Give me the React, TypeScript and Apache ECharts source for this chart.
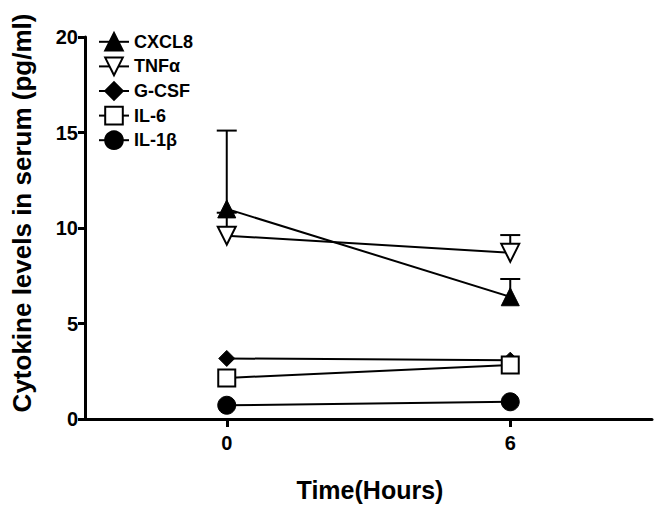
import React, { useEffect, useRef } from "react";
import * as echarts from "echarts";

const hours = [0, 6];
const xTickValues = [0, 6];
const yTicks = [0, 5, 10, 15, 20];
const seriesNames = ["CXCL8", "TNFα", "G-CSF", "IL-6", "IL-1β"];
const cxcl8 = [11.0, 6.4];
const cxcl8Err = [15.1, 7.33];
const tnfa = [9.6, 8.7];
const tnfaErr = [10.8, 9.63];
const gcsf = [3.17, 3.08];
const il6 = [2.15, 2.83];
const il1b = [0.72, 0.9];

const FONT = "Liberation Sans, Arial, Helvetica, sans-serif";

export default function App() {
  const ref = useRef<HTMLDivElement>(null);
  useEffect(() => {
    if (!ref.current) return;
    const chart = echarts.init(ref.current, undefined, { renderer: "svg" });

    const pts = (vals: number[]) => hours.map((h, i) => [h, vals[i]]);
    const errPts = (vals: number[], tops: number[]) =>
      hours.map((h, i) => [h, vals[i], tops[i]]);

    const lineBase = (name: string, data: number[][], symbol: string, size: number, filled: boolean, rotate = 0) => ({
      name,
      type: "line",
      data,
      symbol,
      symbolSize: size,
      symbolRotate: rotate,
      showAllSymbol: true,
      z: 3,
      lineStyle: { color: "#000", width: 2 },
      itemStyle: filled
        ? { color: "#000", borderColor: "#000", borderWidth: 1 }
        : { color: "#fff", borderColor: "#000", borderWidth: 2 },
      emphasis: { disabled: true },
    });

    const errSeries = (data: number[][]) => ({
      type: "custom",
      data,
      z: 1,
      silent: true,
      encode: { x: 0, y: 1 },
      renderItem: (params: any, api: any) => {
        const x = api.value(0);
        const y = api.value(1);
        const top = api.value(2);
        const p0 = api.coord([x, y]);
        const p1 = api.coord([x, top]);
        const cap = 10;
        return {
          type: "group",
          children: [
            { type: "line", shape: { x1: p0[0], y1: p0[1], x2: p1[0], y2: p1[1] }, style: { stroke: "#000", lineWidth: 2 } },
            { type: "line", shape: { x1: p1[0] - cap, y1: p1[1], x2: p1[0] + cap, y2: p1[1] }, style: { stroke: "#000", lineWidth: 2 } },
          ],
        };
      },
    });

    chart.setOption({
      animation: false,
      backgroundColor: "#fff",
      grid: { left: 85, right: 4, top: 37, bottom: 92, containLabel: false },
      xAxis: {
        type: "value",
        min: -3,
        max: 9,
        splitLine: { show: false },
        axisLine: { show: true, onZero: false, lineStyle: { color: "#000", width: 3 } },
        axisTick: { show: true, customValues: xTickValues, length: 8, lineStyle: { color: "#000", width: 3 } },
        axisLabel: { customValues: xTickValues, margin: 14, color: "#000", fontFamily: FONT, fontWeight: "bold", fontSize: 20 },
      },
      yAxis: {
        type: "value",
        min: yTicks[0],
        max: yTicks[yTicks.length - 1],
        interval: 5,
        splitLine: { show: false },
        axisLine: { show: true, onZero: false, lineStyle: { color: "#000", width: 3 } },
        axisTick: { show: true, length: 7, lineStyle: { color: "#000", width: 3 } },
        axisLabel: { margin: 7, color: "#000", fontFamily: FONT, fontWeight: "bold", fontSize: 20 },
      },
      legend: {
        data: seriesNames,
        orient: "vertical",
        left: 93,
        top: 27,
        itemWidth: 30,
        itemHeight: 22,
        itemGap: 5,
        textStyle: { color: "#000", fontFamily: FONT, fontWeight: "bold", fontSize: 18 },
        selectedMode: false,
      },
      graphic: [
        {
          type: "text",
          x: 22,
          y: 213,
          rotation: Math.PI / 2,
          style: { text: "Cytokine levels in serum (pg/ml)", font: `bold 26px ${FONT}`, fill: "#000", align: "center", verticalAlign: "middle" },
        },
        {
          type: "text",
          x: 370,
          y: 490,
          style: { text: "Time(Hours)", font: `bold 25px ${FONT}`, fill: "#000", align: "center", verticalAlign: "middle" },
        },
      ],
      series: [
        errSeries(errPts(cxcl8, cxcl8Err)),
        errSeries(errPts(tnfa, tnfaErr)),
        lineBase(seriesNames[0], pts(cxcl8), "triangle", 18, true),
        lineBase(seriesNames[1], pts(tnfa), "triangle", 18, false, 180),
        lineBase(seriesNames[2], pts(gcsf), "diamond", 16, true),
        lineBase(seriesNames[3], pts(il6), "rect", 17, false),
        lineBase(seriesNames[4], pts(il1b), "circle", 18, true),
      ],
    });
    return () => chart.dispose();
  }, []);
  return <div ref={ref} style={{ width: 656, height: 511, position: "absolute", left: 0, top: 0 }} />;
}
